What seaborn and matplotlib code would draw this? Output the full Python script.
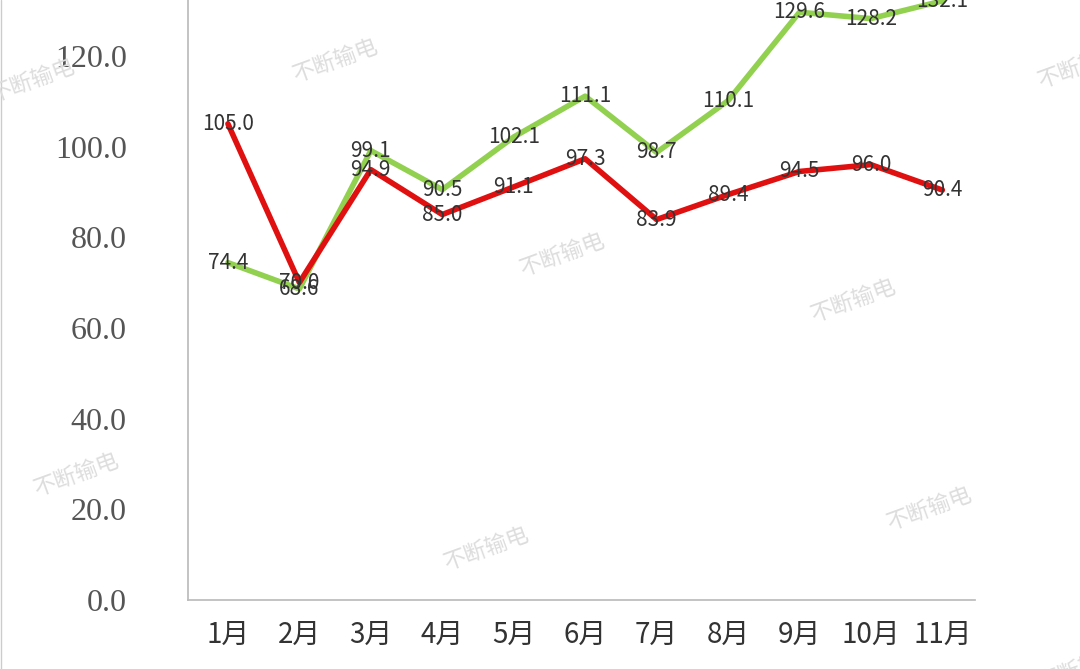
import matplotlib
matplotlib.use("Agg")
import matplotlib.pyplot as plt
import seaborn as sns
import pandas as pd

months = ["1月","2月","3月","4月","5月","6月","7月","8月","9月","10月","11月"]
green = [74.4, 68.6, 99.1, 90.5, 102.1, 111.1, 98.7, 110.1, 129.6, 128.2, 132.1]
red = [105.0, 70.0, 94.9, 85.0, 91.1, 97.3, 83.9, 89.4, 94.5, 96.0, 90.4]

sns.set_theme(style="white")
plt.rcParams['font.family'] = ['Noto Sans CJK SC', 'DejaVu Sans']

fig = plt.figure(figsize=(10.8, 6.69), dpi=100)
ax = fig.add_axes([0.174, 0.103, 0.729, 0.897])
x = list(range(len(months)))
df = pd.DataFrame({"x": x, "g": green, "r": red})
sns.lineplot(data=df, x="x", y="g", ax=ax, color="#92D050", lw=4)
sns.lineplot(data=df, x="x", y="r", ax=ax, color="#E01010", lw=4)
for i in x:
    ax.text(i, green[i], f"{green[i]:.1f}", ha="center", va="center", fontsize=15, color="#333333")
    ax.text(i, red[i], f"{red[i]:.1f}", ha="center", va="center", fontsize=15, color="#333333")
ax.set_xlim(-0.56, 10.46)
ax.set_ylim(0, 132.3)
ax.set_yticks([0, 20, 40, 60, 80, 100, 120])
ax.set_yticklabels([f"{v:.1f}" for v in [0, 20, 40, 60, 80, 100, 120]], fontsize=23, color="#555555", family=["Liberation Serif", "DejaVu Serif"])
ax.set_xticks(x)
ax.set_xticklabels(months, fontsize=20, color="#333333")
ax.set_xlabel(""); ax.set_ylabel("")
for s in ["top", "right"]:
    ax.spines[s].set_visible(False)
for s in ["left", "bottom"]:
    ax.spines[s].set_color("#BBBBBB")
ax.tick_params(axis="y", pad=38)
ax.tick_params(axis="x", pad=8)
fig.add_artist(plt.Line2D([0.001, 0.001], [0, 1], color="#CCCCCC", lw=1))
for (wx, wy) in [(0.03, 0.88), (0.31, 0.91), (0.52, 0.62), (0.79, 0.55), (0.07, 0.29), (0.45, 0.18), (0.86, 0.24), (1.0, 0.9), (1.0, 0.0)]:
    fig.text(wx, wy, "不断输电", fontsize=16, color="#DDDDDD", rotation=20, ha="center", va="center")
fig.savefig("out.png", dpi=100)
